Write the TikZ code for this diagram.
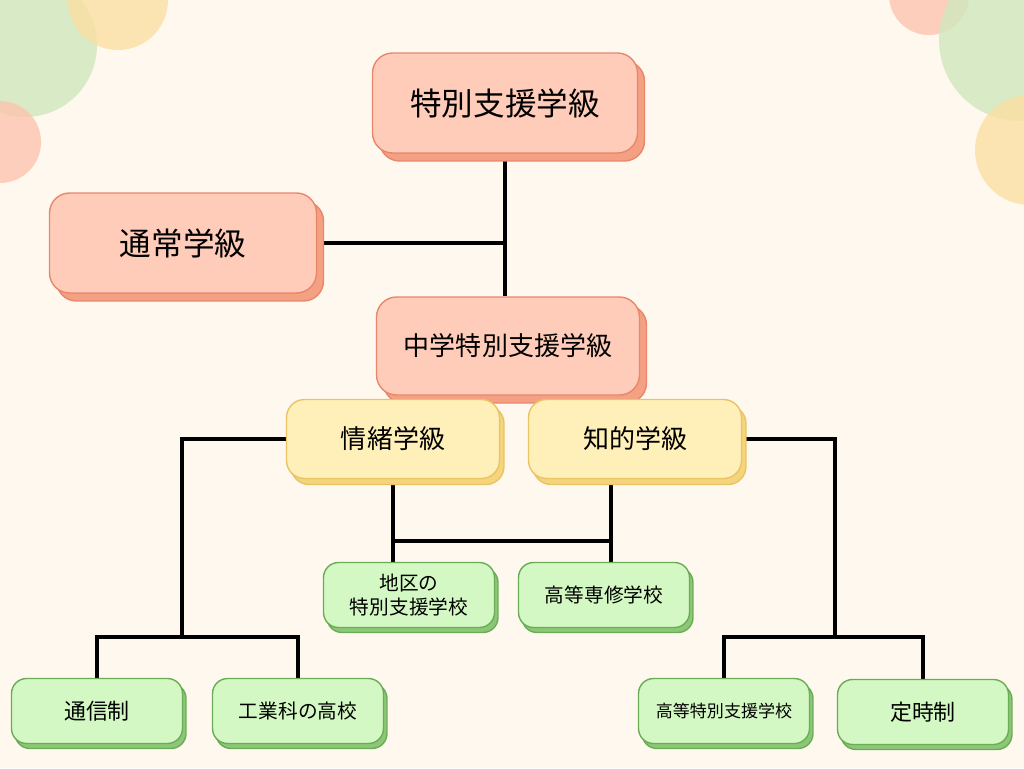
\documentclass[tikz,border=0pt]{standalone}
\usepackage{fontspec}
\setmainfont{Noto Sans CJK JP}
\usepackage{xcolor}
\usetikzlibrary{
    shadows,
    backgrounds,
    positioning
}
\definecolor{bgcream}{HTML}{FEF8EE}
\definecolor{pinkfill}{HTML}{FFCCBA}
\definecolor{pinkline}{HTML}{E8876C}
\definecolor{pinkshade}{HTML}{F4A083}
\definecolor{yelfill}{HTML}{FFF0BA}
\definecolor{yelline}{HTML}{E8C466}
\definecolor{yelshade}{HTML}{F5D47C}
\definecolor{grnfill}{HTML}{D3F8C3}
\definecolor{grnline}{HTML}{6BAD57}
\definecolor{grnshade}{HTML}{8CC777}
\definecolor{dotgreen}{HTML}{CFE7BD}
\definecolor{dotyellow}{HTML}{FBDFA2}
\definecolor{dotpink}{HTML}{FDC4B0}
\tikzset{
    pinkbox/.style={draw=pinkline, fill=pinkfill, line width=0.8pt, inner sep=0pt,
        rounded corners=0.4cm, font=\fontsize{18}{22}\selectfont,
        general shadow={fill=pinkshade, draw=pinkline, shadow xshift=0.14cm, shadow yshift=-0.16cm}},
    yelbox/.style={draw=yelline, fill=yelfill, line width=0.8pt, inner sep=0pt,
        rounded corners=0.36cm, font=\fontsize{14.8}{18}\selectfont,
        minimum width=4.26cm, minimum height=1.58cm,
        general shadow={fill=yelshade, draw=yelline, shadow xshift=0.09cm, shadow yshift=-0.12cm}},
    grnbox/.style={draw=grnline, fill=grnfill, line width=0.8pt, inner sep=0pt,
        rounded corners=0.3cm, align=center, font=\fontsize{11.2}{14}\selectfont,
        minimum width=3.42cm, minimum height=1.3cm,
        general shadow={fill=grnshade, draw=grnline, shadow xshift=0.07cm, shadow yshift=-0.1cm}},
    link/.style={draw=black, line width=1.9pt},
    dot/.style={fill opacity=0.8}
}

\begin{document}
\begin{tikzpicture}[x=0.02cm, y=-0.02cm]
    \useasboundingbox (0, 0) rectangle (1024, 768);
    \node[pinkbox, minimum width=5.3cm, minimum height=2cm] (tokubetsu) at (505, 103) {特別支援学級};
    \node[pinkbox, minimum width=5.34cm, minimum height=2cm] (tsujo) at (183, 243) {通常学級};
    \node[pinkbox, minimum width=5.26cm, minimum height=1.96cm, font=\fontsize{14.8}{18}\selectfont] (chugaku) at (508, 346) {中学特別支援学級};
    \node[yelbox] (jocho) at (393, 439) {情緒学級};
    \node[yelbox] (chiteki) at (635, 439) {知的学級};
    \node[grnbox] (chiku) at (409, 595) {地区の\\特別支援学校};
    \node[grnbox] (senshu) at (604, 595) {高等専修学校};
    \node[grnbox, font=\fontsize{12.5}{15}\selectfont] (tsushin) at (97, 711) {通信制};
    \node[grnbox] (kogyo) at (298, 711) {工業科の高校};
    \node[grnbox, font=\fontsize{9.7}{12}\selectfont] (kotoku) at (724, 711) {高等特別支援学校};
    \node[grnbox, font=\fontsize{12.5}{15}\selectfont] (teiji) at (923, 712) {定時制};
    \coordinate (jfork) at (182, 637);
    \coordinate (cfork) at (835, 637);
    \coordinate (mjoin) at (611, 541);
    \begin{pgfonlayer}{background}
        \fill[bgcream] (0, 0) rectangle (1024, 768);
        \begin{scope}
            \clip (0, 0) rectangle (1024, 768);
            \fill[dotgreen, dot] (25, 45) circle [radius=72];
            \fill[dotyellow, dot] (118, 0) circle [radius=50];
            \fill[dotpink, dot] (0, 142) circle [radius=41];
            \fill[dotpink, dot] (929, -5) circle [radius=40];
            \fill[dotgreen, dot] (1020, 40) circle [radius=81];
            \fill[dotyellow, dot] (1030, 150) circle [radius=55];
        \end{scope}
        \draw[link] (tokubetsu.south) -- (tokubetsu.south |- chugaku.north);
        \draw[link] (tsujo.east) -- (tsujo.east -| tokubetsu.south);
        \draw[link] (jocho.west) -| (jfork);
        \draw[link] (tsushin.north) -- (tsushin.north |- jfork) -- (kogyo.north |- jfork) -- (kogyo.north);
        \draw[link] (chiteki.east) -| (cfork);
        \draw[link] (kotoku.north) -- (kotoku.north |- cfork) -- (teiji.north |- cfork) -- (teiji.north);
        \draw[link] (jocho.south) -- (jocho.south |- chiku.north);
        \draw[link] (jocho.south |- mjoin) -- (mjoin);
        \draw[link] (chiteki.south -| mjoin) -- (mjoin |- senshu.north);
    \end{pgfonlayer}
\end{tikzpicture}
\end{document}
